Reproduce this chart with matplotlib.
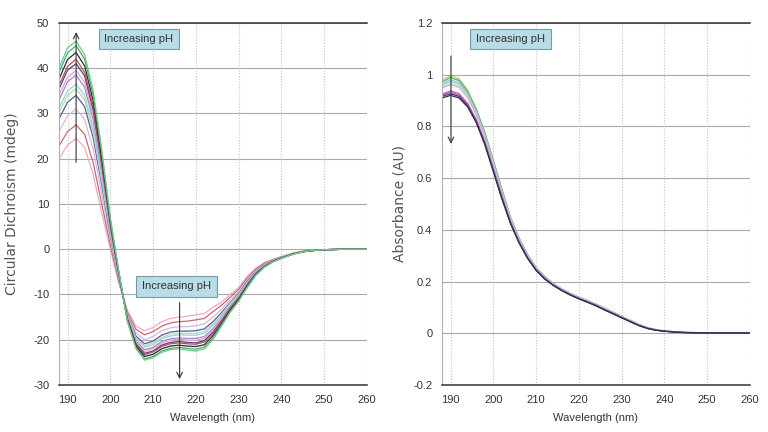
import matplotlib
matplotlib.use("Agg")
import matplotlib.pyplot as plt
from matplotlib.patches import Rectangle

plt.rcParams['font.family'] = ['Liberation Sans Narrow', 'Liberation Sans', 'DejaVu Sans']

# wavelength grid (nm)
wl = [188, 190, 192, 194, 196, 198, 200, 202, 204, 206, 208, 210, 212, 214, 216,
      218, 220, 222, 224, 226, 228, 230, 232, 234, 236, 238, 240, 243, 246, 250, 255, 260]

# CD spectra (mdeg), low pH -> high pH
cd_spectra = [
    [20, 23, 24.5, 22.5, 16.5, 8, 0, -7.5, -13.5, -17, -18, -17.3, -16, -15.3, -15, -14.8,
     -14.5, -14.2, -12.8, -11.7, -10, -8.5, -6, -4.2, -3, -2.2, -1.6, -0.8, -0.3, -0.1, 0, 0],
    [22.8, 26, 27.5, 25.4, 19.1, 10, 1, -7.2, -13.9, -17.7, -18.9, -18.2, -17, -16.3, -16, -15.9,
     -15.6, -15.3, -13.8, -12.4, -10.6, -8.9, -6.4, -4.4, -3.1, -2.3, -1.7, -0.8, -0.3, -0.1, 0, 0],
    [26, 29.5, 31, 28.7, 22.1, 12.2, 2.1, -6.8, -14.3, -18.5, -20, -19.3, -18, -17.4, -17.1, -17.1,
     -16.9, -16.5, -15, -13.3, -11.2, -9.4, -6.8, -4.7, -3.3, -2.4, -1.7, -0.9, -0.3, -0.1, 0, 0],
    [28.8, 32.5, 34, 31.5, 24.6, 14.2, 3.1, -6.4, -14.6, -19.2, -20.9, -20.3, -19, -18.3, -18.1, -18.1,
     -18, -17.6, -16, -14, -11.8, -9.8, -7.1, -4.9, -3.4, -2.5, -1.8, -0.9, -0.3, -0.1, 0, 0],
    [30.2, 34, 35.5, 33, 25.9, 15.1, 3.6, -6.2, -14.8, -19.6, -21.3, -20.7, -19.5, -18.8, -18.6, -18.6,
     -18.6, -18.2, -16.5, -14.4, -12, -10, -7.3, -5, -3.5, -2.5, -1.8, -0.9, -0.35, -0.1, 0, 0],
    [31.2, 35, 36.5, 34, 26.9, 15.8, 3.9, -6.1, -14.9, -19.8, -21.6, -21.1, -19.8, -19.2, -18.9, -19,
     -19, -18.6, -16.8, -14.7, -12.2, -10.2, -7.4, -5.1, -3.6, -2.5, -1.8, -0.9, -0.35, -0.1, 0, 0],
    [33, 37, 38.5, 35.8, 28.5, 17.1, 4.6, -5.9, -15.1, -20.3, -22.2, -21.7, -20.4, -19.8, -19.6, -19.7,
     -19.7, -19.3, -17.5, -15.2, -12.6, -10.5, -7.6, -5.2, -3.7, -2.6, -1.9, -0.9, -0.35, -0.1, 0, 0],
    [34, 38, 39.5, 36.9, 29.5, 17.8, 4.9, -5.8, -15.3, -20.5, -22.6, -22, -20.8, -20.1, -19.9, -20.1,
     -20.1, -19.7, -17.8, -15.4, -12.8, -10.6, -7.8, -5.3, -3.7, -2.6, -1.9, -0.95, -0.35, -0.1, 0, 0],
    [35.4, 39.6, 41, 38.3, 30.7, 18.8, 5.4, -5.6, -15.4, -20.9, -23, -22.5, -21.2, -20.6, -20.4, -20.6,
     -20.7, -20.2, -18.3, -15.8, -13.1, -10.8, -7.9, -5.4, -3.8, -2.7, -1.9, -0.95, -0.4, -0.1, 0, 0],
    [36.2, 40.4, 42, 39.1, 31.5, 19.3, 5.7, -5.5, -15.5, -21.1, -23.3, -22.7, -21.5, -20.9, -20.7, -20.9,
     -21, -20.5, -18.6, -16, -13.2, -10.9, -8, -5.5, -3.8, -2.7, -1.9, -0.95, -0.4, -0.1, 0, 0],
    [37.6, 41.9, 43.5, 40.5, 32.8, 20.3, 6.2, -5.3, -15.7, -21.4, -23.7, -23.2, -22, -21.4, -21.2, -21.4,
     -21.5, -21.1, -19.1, -16.4, -13.5, -11.1, -8.2, -5.6, -3.9, -2.7, -1.95, -1, -0.4, -0.1, 0, 0],
    [39, 43.4, 45, 42, 34.1, 21.3, 6.65, -5.1, -15.9, -21.8, -24.2, -23.7, -22.5, -21.9, -21.7, -21.9,
     -22.1, -21.6, -19.6, -16.7, -13.8, -11.4, -8.4, -5.7, -3.95, -2.8, -2, -1, -0.4, -0.1, 0, 0],
    [40, 44.5, 46, 43, 35, 22, 7, -5, -16, -22, -24.5, -24, -22.8, -22.2, -22, -22.3,
     -22.5, -22, -20, -17, -14, -11.5, -8.5, -5.8, -4, -2.8, -2, -1, -0.4, -0.1, 0, 0],
]
cd_colors = ['#f0a8c4', '#c86a6a', '#d4b8e4', '#5a5a98', '#b4e0a4', '#94d4e4', '#a488c8',
             '#e8a0d0', '#484878', '#b85050', '#282838', '#48a868', '#74c88c']

# absorbance spectra (AU), top -> bottom
abs_spectra = [
    [.980, .995, .985, .940, .870, .780, .670, .560, .450, .370, .305, .255, .220, .193, .172, .155,
     .140, .127, .113, .098, .082, .066, .050, .034, .022, .014, .009, .005, .003, .002, .002, .002],
    [.973, .988, .978, .934, .865, .775, .666, .556, .448, .368, .304, .254, .219, .192, .171, .154,
     .139, .126, .112, .097, .081, .065, .050, .034, .022, .014, .009, .005, .003, .002, .002, .002],
    [.966, .980, .970, .927, .859, .770, .661, .552, .445, .366, .302, .253, .218, .191, .171, .154,
     .139, .126, .112, .096, .081, .065, .049, .033, .021, .014, .009, .005, .003, .002, .002, .002],
    [.960, .974, .964, .922, .855, .766, .657, .549, .443, .364, .301, .252, .217, .191, .170, .153,
     .138, .125, .111, .096, .080, .064, .049, .033, .021, .013, .009, .005, .003, .002, .002, .002],
    [.953, .967, .957, .915, .849, .761, .653, .545, .441, .362, .299, .251, .216, .190, .169, .152,
     .137, .124, .110, .095, .079, .064, .048, .032, .021, .013, .009, .005, .002, .002, .002, .002],
    [.949, .961, .951, .911, .845, .758, .650, .542, .439, .361, .298, .250, .216, .189, .169, .152,
     .137, .124, .110, .094, .079, .063, .048, .032, .021, .013, .009, .005, .002, .001, .001, .001],
    [.925, .937, .927, .889, .827, .741, .635, .529, .431, .354, .293, .246, .212, .187, .167, .150,
     .135, .122, .108, .092, .077, .061, .046, .031, .020, .012, .008, .004, .002, .001, .001, .001],
    [.921, .931, .921, .885, .823, .738, .632, .526, .429, .353, .292, .245, .212, .186, .166, .149,
     .134, .121, .107, .091, .076, .061, .046, .031, .019, .012, .008, .004, .002, .001, .001, .001],
    [.916, .926, .916, .880, .819, .734, .629, .523, .427, .352, .291, .244, .211, .186, .166, .148,
     .134, .121, .107, .091, .076, .060, .045, .030, .019, .012, .008, .004, .002, .001, .001, .001],
    [.910, .920, .910, .875, .815, .730, .625, .520, .425, .350, .290, .243, .210, .185, .165, .148,
     .133, .120, .106, .090, .075, .060, .045, .030, .019, .012, .008, .004, .002, .001, .001, .001],
]
abs_colors = ['#b8c878', '#50b060', '#84d0d4', '#a4c4e8', '#c4e0a4', '#d8a8d8', '#a868a8',
              '#c058a8', '#483878', '#303058']

x_ticks = [190, 200, 210, 220, 230, 240, 250, 260]
cd_ticks = [50, 40, 30, 20, 10, 0, -10, -20, -30]
abs_ticks = [1.2, 1, 0.8, 0.6, 0.4, 0.2, 0, -0.2]
abs_tick_labels = ['1.2', '1', '0.8', '0.6', '0.4', '0.2', '0', '-0.2']

fig = plt.figure(figsize=(7.68, 4.32), dpi=100)
ax1 = fig.add_axes([0.0768, 0.1088, 0.401, 0.838])
ax2 = fig.add_axes([0.5755, 0.1088, 0.401, 0.838])


def style_axes(ax, yticks, ylabels, ylim):
    ax.set_xlim(188, 260)
    ax.set_ylim(*ylim)
    ax.set_xticks(x_ticks)
    ax.set_yticks(yticks)
    ax.set_yticklabels(ylabels)
    ax.tick_params(length=0, labelsize=8, colors='#333333', pad=7)
    for y in yticks:
        ax.axhline(y, color='#a8a8a8', lw=0.8, zorder=0)
    for x in x_ticks:
        ax.axvline(x, color='#c4c4c4', lw=0.8, ls=(0, (1, 1.5)), zorder=0)
    ax.spines['top'].set_color('#333333')
    ax.spines['bottom'].set_color('#333333')
    ax.spines['top'].set_linewidth(1.1)
    ax.spines['bottom'].set_linewidth(1.1)
    ax.spines['left'].set_color('#b0b0b0')
    ax.spines['left'].set_linewidth(0.8)
    ax.spines['right'].set_visible(False)
    ax.set_xlabel('Wavelength (nm)', fontsize=8, color='#333333', labelpad=6)


def ph_box(ax, x0, x1, y0, y1):
    ax.add_patch(Rectangle((x0, y0), x1 - x0, y1 - y0, facecolor='#b8dde6',
                           edgecolor='#7a9aa8', lw=0.8, zorder=5))
    ax.text((x0 + x1) / 2, (y0 + y1) / 2, 'Increasing pH', ha='center', va='center',
            fontsize=8, color='#333333', zorder=6)


# left panel: circular dichroism
for spec, c in zip(cd_spectra, cd_colors):
    ax1.plot(wl, spec, color=c, lw=0.9)
style_axes(ax1, cd_ticks, [str(t) for t in cd_ticks], (-30, 50))
ax1.set_ylabel('Circular Dichroism (mdeg)', fontsize=10, color='#555555',
               family='DejaVu Sans', labelpad=10)
ph_box(ax1, 197.3, 216.0, 44.25, 48.67)
ph_box(ax1, 206.1, 224.9, -10.5, -5.9)
ax1.annotate('', xy=(192.0, 48.6), xytext=(192.0, 18.6),
             arrowprops=dict(arrowstyle='->', color='#333333', lw=0.8), zorder=7)
ax1.annotate('', xy=(216.2, -29.3), xytext=(216.2, -11.2),
             arrowprops=dict(arrowstyle='->', color='#333333', lw=0.8), zorder=7)

# right panel: absorbance
for spec, c in zip(abs_spectra, abs_colors):
    ax2.plot(wl, spec, color=c, lw=0.9)
style_axes(ax2, abs_ticks, abs_tick_labels, (-0.2, 1.2))
ax2.set_ylabel('Absorbance (AU)', fontsize=10, color='#555555',
               family='DejaVu Sans', labelpad=5)
ph_box(ax2, 194.5, 213.4, 1.098, 1.1756)
ax2.annotate('', xy=(190.1, 0.722), xytext=(190.1, 1.083),
             arrowprops=dict(arrowstyle='->', color='#333333', lw=0.8), zorder=7)

fig.savefig('out.png', dpi=100)
